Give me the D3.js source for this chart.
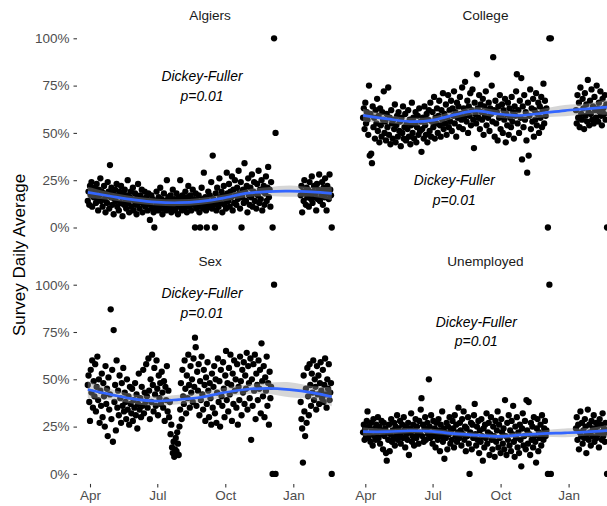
<!DOCTYPE html>
<html>
<head>
<meta charset="utf-8">
<script src="https://cdn.jsdelivr.net/npm/d3@7"></script>
<style>
  body { margin: 0; background: #fff; }
  svg { display: block; font-family: "Liberation Sans", Arial, sans-serif; }
</style>
</head>
<body>
<div id="chart"></div>
<script>
/*--------------------------------------*
 *---------------- Data ----------------*
 *--------------------------------------*/

// Days are counted from 1 April 2017
const mainStartDay = -3;      // daily values from 29 Mar to 3 Dec
const winterStartDay = 285;   // daily values from 11 Jan to 21 Feb
const extraDays = [247, 249, 251, 327];  // days with very few answers

const facetNames = ['Algiers', 'College', 'Sex', 'Unemployed'];
const yTicks = [0, 25, 50, 75, 100];
const xTickDays = [0, 91, 183, 275];   // Apr, Jul, Oct, Jan

const algiersMain = [
  14, 19, 12, 22, 17, 24, 11, 20, 16, 21,
  18, 13, 23, 15, 9, 20, 17, 26, 14, 19,
  11, 18, 22, 15, 8, 17, 13, 24, 19, 10,
  33, 16, 21, 12, 18, 7, 15, 20, 14, 23,
  11, 17, 9, 19, 13, 22, 16, 6, 18, 12,
  20, 14, 10, 17, 25, 13, 8, 16, 19, 11,
  15, 21, 9, 14, 18, 12, 7, 16, 23, 13,
  10, 17, 14, 20, 8, 15, 12, 19, 11, 16,
  13, 9, 18, 14, 4, 12, 17, 10, 15, 8,
  0, 14, 11, 19, 13, 9, 16, 12, 21, 10,
  15, 7, 13, 18, 11, 14, 9, 25, 12, 16,
  10, 13, 17, 8, 14, 20, 11, 15, 9, 12,
  18, 13, 7, 16, 11, 25, 14, 9, 17, 12,
  15, 10, 19, 13, 8, 16, 22, 11, 14, 17,
  9, 13, 20, 12, 15, 0, 18, 10, 14, 11,
  17, 8, 0, 13, 21, 15, 10, 29, 12, 16,
  9, 0, 14, 19, 11, 17, 13, 24, 10, 38,
  15, 12, 0, 18, 9, 21, 14, 11, 26, 16,
  13, 19, 8, 17, 22, 12, 15, 10, 29, 18,
  14, 23, 11, 19, 16, 27, 9, 20, 13, 25,
  17, 12, 21, 15, 30, 18, 10, 24, 0, 16,
  20, 13, 34, 19, 14, 22, 8, 26, 17, 12,
  21, 16, 28, 11, 19, 24, 14, 18, 10, 23,
  17, 30, 13, 20, 15, 25, 9, 19, 22, 12,
  18, 27, 14, 21, 32, 16, 20, 11, 24
];
const algiersWinter = [
  17, 22, 8, 19, 14, 25, 18, 12, 21, 16,
  20, 11, 24, 17, 15, 27, 13, 19, 22, 16,
  18, 9, 23, 15, 20, 28, 14, 19, 17, 24,
  12, 21, 16, 26, 19, 9, 22, 18, 15, 28,
  20, 17
];
const algiersExtra = [0, 100, 50, 0];

const collegeMain = [
  58, 63, 52, 66, 55, 61, 57, 49, 75, 38,
  60, 39, 34, 64, 53, 58, 47, 62, 55, 68,
  51, 59, 45, 63, 54, 48, 61, 57, 72, 50,
  56, 46, 60, 53, 74, 49, 58, 44, 62, 55,
  47, 57, 52, 65, 45, 54, 59, 48, 61, 51,
  56, 43, 58, 50, 64, 47, 53, 60, 46, 55,
  52, 62, 48, 57, 44, 54, 66, 50, 58, 47,
  55, 61, 45, 53, 59, 49, 63, 51, 56, 40,
  52, 58, 47, 64, 54, 49, 60, 45, 57, 62,
  51, 66, 48, 56, 61, 53, 69, 47, 58, 55,
  63, 50, 59, 67, 54, 48, 62, 57, 71, 52,
  60, 55, 65, 49, 58, 70, 53, 62, 56, 67,
  51, 63, 59, 72, 55, 61, 48, 66, 58, 64,
  53, 69, 60, 57, 74, 52, 63, 58, 77, 61,
  56, 67, 50, 64, 59, 71, 54, 62, 73, 57,
  42, 66, 60, 55, 81, 63, 58, 70, 52, 65,
  61, 57, 68, 49, 64, 59, 72, 54, 62, 58,
  66, 51, 63, 60, 75, 56, 90, 62, 48, 67,
  55, 61, 46, 64, 58, 70, 52, 59, 65, 50,
  62, 57, 68, 45, 60, 54, 66, 49, 63, 58,
  53, 69, 56, 61, 47, 64, 59, 72, 81, 55,
  62, 50, 67, 58, 79, 36, 64, 53, 70, 57,
  61, 46, 29, 66, 38, 59, 73, 52, 63, 56,
  68, 48, 62, 57, 71, 54, 60, 66, 50, 64,
  58, 69, 53, 62, 76, 55, 67, 59, 63
];
const collegeWinter = [
  62, 55, 70, 58, 66, 53, 74, 60, 57, 68,
  63, 52, 71, 59, 65, 56, 78, 61, 54, 67,
  60, 73, 57, 64, 55, 69, 62, 58, 75, 63,
  56, 66, 61, 72, 59, 54, 68, 63, 60, 70,
  57, 65
];
const collegeExtra = [0, 100, 100, 0];

const sexMain = [
  47, 52, 38, 28, 55, 43, 60, 35, 49, 41,
  58, 33, 46, 62, 39, 50, 27, 44, 36, 53,
  30, 48, 41, 25, 57, 37, 45, 20, 51, 34,
  42, 87, 29, 55, 17, 76, 38, 47, 23, 60,
  35, 44, 31, 52, 40, 27, 48, 36, 56, 33,
  43, 38, 29, 50, 34, 41, 26, 46, 37, 32,
  45, 28, 39, 35, 48, 31, 42, 24, 37, 53,
  34, 40, 30, 46, 36, 55, 32, 43, 38, 58,
  41, 35, 61, 44, 29, 50, 38, 63, 47, 33,
  56, 42, 36, 60, 45, 31, 52, 40, 48, 37,
  54, 43, 35, 49, 28, 46, 39, 57, 33, 44,
  30, 38, 21, 26, 14, 11, 17, 9, 13, 19,
  12, 22, 16, 10, 25, 34, 48, 29, 55, 41,
  37, 60, 45, 32, 52, 40, 63, 47, 35, 57,
  43, 50, 38, 61, 46, 72, 67, 36, 54, 44,
  58, 31, 49, 39, 62, 42, 34, 55, 47, 28,
  51, 37, 59, 44, 30, 48, 40, 26, 53, 35,
  46, 57, 32, 50, 27, 43, 61, 38, 49, 25,
  55, 41, 36, 59, 45, 30, 52, 65, 39, 48,
  33, 56, 42, 63, 47, 28, 53, 37, 60, 44,
  50, 35, 58, 26, 46, 39, 62, 49, 31, 55,
  43, 59, 37, 52, 45, 64, 34, 57, 48, 40,
  61, 18, 50, 36, 58, 44, 63, 29, 53, 47,
  39, 60, 45, 55, 32, 69, 49, 41, 57, 30,
  51, 44, 62, 36, 48, 26, 54, 40, 46
];
const sexWinter = [
  38, 29, 24, 6, 52, 33, 20, 45, 27, 56,
  41, 31, 58, 47, 36, 53, 43, 60, 39, 50,
  46, 34, 57, 42, 52, 37, 48, 59, 44, 40,
  55, 38, 47, 61, 42, 35, 50, 45, 58, 39,
  43, 48
];
const sexExtra = [0, 100, 0, 0];

const unemployedMain = [
  22, 26, 18, 24, 20, 28, 33, 19, 25, 21,
  17, 27, 23, 15, 29, 20, 24, 18, 26, 22,
  30, 19, 25, 16, 23, 28, 21, 13, 27, 20,
  24, 11, 7, 22, 18, 26, 12, 21, 29, 17,
  23, 19, 27, 15, 25, 21, 31, 18, 24, 20,
  28, 16, 22, 26, 19, 30, 23, 14, 25, 21,
  18, 27, 10, 22, 24, 32, 17, 20, 26, 15,
  23, 29, 19, 25, 21, 16, 28, 22, 34, 40,
  20, 26, 17, 24, 30, 18, 23, 27, 21, 50,
  25, 19, 31, 22, 16, 28, 20, 24, 14, 27,
  21, 18, 29, 23, 12, 26, 20, 33, 17, 24,
  8, 22, 19, 27, 13, 25, 21, 30, 16, 23,
  18, 28, 24, 14, 31, 20, 26, 17, 22, 35,
  19, 27, 23, 15, 29, 21, 33, 18, 25, 12,
  24, 20, 30, 16, 0, 22, 27, 13, 26, 19,
  31, 37, 21, 15, 25, 18, 28, 11, 23, 17,
  29, 20, 7, 24, 14, 26, 19, 32, 16, 22,
  27, 10, 21, 30, 18, 13, 25, 20, 9, 28,
  17, 23, 33, 14, 26, 19, 11, 29, 22, 16,
  24, 13, 39, 20, 10, 27, 18, 31, 15, 23,
  12, 28, 21, 36, 17, 9, 25, 19, 30, 14,
  22, 11, 26, 18, 4, 24, 32, 15, 20, 28,
  13, 39, 23, 16, 38, 21, 10, 27, 18, 25,
  14, 30, 20, 17, 6, 24, 29, 12, 22, 19,
  26, 15, 31, 21, 18, 24, 28, 20, 23
];
const unemployedWinter = [
  24, 30, 18, 26, 13, 22, 33, 20, 27, 16,
  23, 19, 29, 25, 11, 21, 34, 18, 26, 22,
  15, 28, 20, 24, 31, 17, 23, 27, 19, 25,
  21, 14, 29, 22, 26, 18, 32, 20, 24, 17,
  27, 22
];
const unemployedExtra = [0, 100, 0, 0];

// Loess smooth, with its standard error half-width
const smoothDays = [-3, 30, 60, 90, 120, 150, 180, 210, 240, 270, 300, 327];
const algiersSmooth = [18.6, 16.4, 14.6, 13.4, 13.1, 13.8, 15.5, 18.0, 19.0, 19.2, 18.8, 18.0];
const algiersSe     = [3, 2, 1.8, 1.8, 1.8, 1.8, 1.8, 2, 2.3, 3, 2.5, 3.5];
const collegeSmooth = [59.3, 57.4, 56.0, 56.6, 59.5, 61.6, 60.0, 59.2, 60.5, 61.8, 62.7, 63.6];
const collegeSe     = [3.5, 2.2, 2, 2, 2, 2, 2, 2, 2.3, 3, 2.8, 4];
const sexSmooth     = [44.6, 41.8, 39.5, 38.5, 39.3, 40.5, 42.9, 44.6, 45.2, 44.5, 43.0, 40.8];
const sexSe         = [4.5, 2.8, 2.5, 2.5, 2.5, 2.5, 2.5, 2.5, 3, 4, 3.5, 5];
const unemployedSmooth = [22.3, 22.3, 22.8, 22.5, 21.3, 20.5, 19.8, 20.6, 21.3, 21.7, 22.2, 22.9];
const unemployedSe     = [2.2, 1.5, 1.3, 1.3, 1.3, 1.3, 1.3, 1.4, 1.7, 2.3, 2, 3];

const dfLabel = ['Dickey-Fuller', 'p=0.01'];

/*--------------------------------------*
 *------------- Layout -----------------*
 *--------------------------------------*/

const width = 607, height = 506;
const panelW = 272.3, panelH = 189.2;
const panelX = [74, 349.3];
const panelY = [38.3, 284.7];

// where the Dickey-Fuller note sits inside each panel
const notePos = [[128, 38], [105, 142], [128, 8.5], [127, 37]];

const dayToDate = (day) => new Date(2017, 3, 1 + day);

const xScale = d3.scaleTime()
    .domain([dayToDate(0), dayToDate(275)])
    .range([16, 219.3]);
const yScale = d3.scaleLinear()
    .domain([0, 100])
    .range([panelH, 0]);

function toPoints(values, startDay) {
    return values.map((v, i) => ({ date: dayToDate(startDay + i), value: v }));
}

const panels = [
    { main: algiersMain, winter: algiersWinter, extra: algiersExtra, smooth: algiersSmooth, se: algiersSe },
    { main: collegeMain, winter: collegeWinter, extra: collegeExtra, smooth: collegeSmooth, se: collegeSe },
    { main: sexMain, winter: sexWinter, extra: sexExtra, smooth: sexSmooth, se: sexSe },
    { main: unemployedMain, winter: unemployedWinter, extra: unemployedExtra, smooth: unemployedSmooth, se: unemployedSe }
].map((p, i) => {
    const points = toPoints(p.main, mainStartDay)
        .concat(toPoints(p.winter, winterStartDay))
        .concat(p.extra.map((v, j) => ({ date: dayToDate(extraDays[j]), value: v })));
    const smooth = smoothDays.map((d, j) => ({ date: dayToDate(d), value: p.smooth[j], se: p.se[j] }));
    return { name: facetNames[i], col: i % 2, row: Math.floor(i / 2), points, smooth, note: notePos[i] };
});

/*--------------------------------------*
 *-------------- Drawing ---------------*
 *--------------------------------------*/

const svg = d3.select('#chart')
    .append('svg')
    .attr('width', width)
    .attr('height', height);

const areaGenerator = d3.area()
    .x(d => xScale(d.date))
    .y0(d => yScale(d.value - d.se))
    .y1(d => yScale(d.value + d.se))
    .curve(d3.curveCatmullRom);

const lineGenerator = d3.line()
    .x(d => xScale(d.date))
    .y(d => yScale(d.value))
    .curve(d3.curveCatmullRom);

panels.forEach(p => {
    const g = svg.append('g')
        .attr('transform', 'translate(' + panelX[p.col] + ',' + panelY[p.row] + ')');

    // Facet title
    g.append('text')
        .attr('x', panelW / 2)
        .attr('y', -23.5)
        .attr('dy', '0.35em')
        .attr('text-anchor', 'middle')
        .attr('fill', '#1a1a1a')
        .style('font-size', '13.6px')
        .text(p.name);

    // Points
    g.selectAll('.pt')
        .data(p.points)
        .join('circle')
        .attr('cx', d => xScale(d.date))
        .attr('cy', d => yScale(d.value))
        .attr('r', 3.15)
        .attr('fill', '#000');

    // Smooth ribbon and line
    g.append('path')
        .datum(p.smooth)
        .attr('d', areaGenerator)
        .attr('fill', '#999999')
        .attr('fill-opacity', 0.4);

    g.append('path')
        .datum(p.smooth)
        .attr('d', lineGenerator)
        .attr('fill', 'none')
        .attr('stroke', '#3366FF')
        .attr('stroke-width', 2.7);

    // Dickey-Fuller note
    dfLabel.forEach((t, j) => {
        g.append('text')
            .attr('x', p.note[0])
            .attr('y', p.note[1] + j * 19.8)
            .attr('dy', '0.35em')
            .attr('text-anchor', 'middle')
            .attr('font-style', 'italic')
            .attr('fill', '#000')
            .style('font-size', '13.9px')
            .text(t);
    });

    // Axes
    if (p.col === 0) {
        const yAxis = g.append('g')
            .attr('transform', 'translate(3,0)')
            .call(d3.axisLeft(yScale)
                .tickValues(yTicks)
                .tickFormat(d => d + '%')
                .tickSize(3.5)
                .tickPadding(4));
        styleAxis(yAxis);
    }
    if (p.row === 1) {
        const xAxis = g.append('g')
            .attr('transform', 'translate(0,' + (panelH + 10) + ')')
            .call(d3.axisBottom(xScale)
                .tickValues(xTickDays.map(dayToDate))
                .tickFormat(d3.timeFormat('%b'))
                .tickSize(3.5)
                .tickPadding(3));
        styleAxis(xAxis);
    }
});

function styleAxis(axis) {
    axis.select('.domain').remove();
    axis.selectAll('.tick line').attr('stroke', '#333333').attr('stroke-width', 1.07);
    axis.selectAll('.tick text')
        .attr('fill', '#4d4d4d')
        .style('font-size', '13.5px')
        .style('font-family', '"Liberation Sans", Arial, sans-serif');
}

// Y axis title
svg.append('text')
    .attr('transform', 'translate(19,255) rotate(-90)')
    .attr('dy', '0.35em')
    .attr('text-anchor', 'middle')
    .attr('fill', '#000')
    .style('font-size', '17px')
    .text('Survey Daily Average');
</script>
</body>
</html>
